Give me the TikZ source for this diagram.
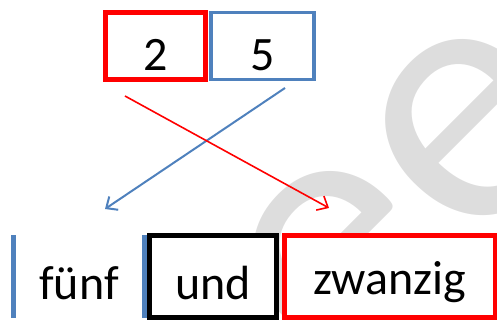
\documentclass[tikz,border=0pt]{standalone}
\usepackage{fontspec}
\setmainfont{Carlito}
\usepackage{tikz}
\usetikzlibrary{arrows.meta}
\definecolor{numred}{RGB}{255,0,0}
\definecolor{numblue}{RGB}{79,129,189}
\definecolor{markgray}{RGB}{221,221,221}

\begin{document}
\begin{tikzpicture}[x=1pt, y=1pt,
    digitbox/.style={draw, minimum height=67pt, inner sep=0pt,
        text height=50pt, text depth=0pt, font=\fontsize{48}{48}\selectfont},
    wordbox/.style={minimum height=82pt, inner sep=0pt,
        text depth=0pt, font=\fontsize{48}{48}\selectfont},
    watermark/.style={text=markgray, rotate=45, inner sep=0pt,
        font=\fontsize{370}{370}\selectfont},
    crossarrow/.style={line width=#1, -{Straight Barb[length=9pt, width=16pt]}},
]
    \useasboundingbox (0, 0) rectangle (497, 320);
    \begin{scope}
        \clip (0, 0) rectangle (497, 320);
        \node[watermark] (markleft) at (340, 58) {e};
        \node[watermark] (markright) at (472, 190) {e};
    \end{scope}

    \node[digitbox, draw=numred, line width=5pt, minimum width=100pt] (two) at (155.5, 274) {2};
    \node[digitbox, draw=numblue, line width=3.5pt, minimum width=103pt] (five) at (262.5, 274) {5};

    \node[wordbox, minimum width=131pt, text height=47pt] (fuenf) at (79, 43.5) {fünf};
    \draw[numblue, line width=5pt] (fuenf.north west) -- (fuenf.south west);
    \draw[numblue, line width=5pt] (fuenf.north east) -- (fuenf.south east);
    \node[wordbox, draw, fill=white, line width=5pt, minimum width=127pt, text height=47pt] (und) at (213, 43.5) {und};
    \node[wordbox, draw=numred, fill=white, line width=5pt, minimum width=210.5pt, text height=37pt] (zwanzig) at (389.75, 43.5) {zwanzig};

    \coordinate (twofoot) at (125, 224);
    \coordinate (fivefoot) at (285, 232);
    \coordinate (fuenfhead) at (105, 111);
    \coordinate (zwanzighead) at (329, 112);
    \draw[numblue, crossarrow=2pt] (fivefoot) -- (fuenfhead);
    \draw[numred, crossarrow=1.6pt] (twofoot) -- (zwanzighead);
\end{tikzpicture}
\end{document}
